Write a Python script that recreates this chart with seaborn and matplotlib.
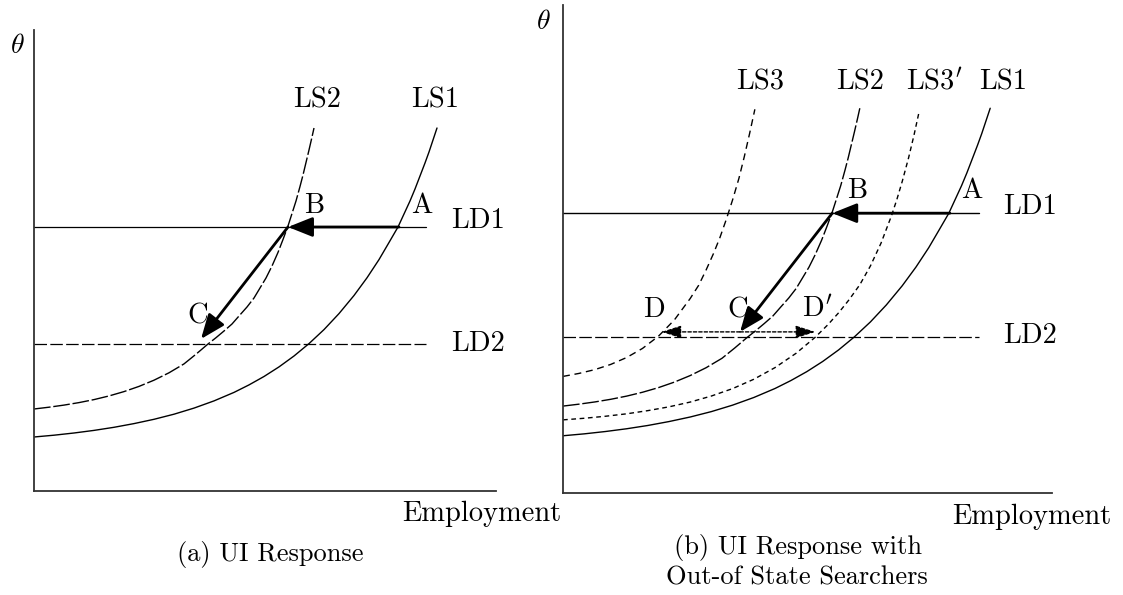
# plot_ui_response.py
# Labour-market diagram: UI response, with and without out-of-state searchers

import matplotlib
matplotlib.use("Agg")
import matplotlib.pyplot as plt
import seaborn as sns

# ─── DATA (arbitrary units) ─────────────────────────────────────
# labour-supply curves: employment -> theta
LS1_X = [0, 20, 40, 60, 80, 100, 120, 140, 160, 180, 200, 215, 230, 245, 260, 275, 290,
         305, 320, 333, 345, 355, 364, 370, 376, 381, 386, 391, 395, 399, 403]
LS1_Y = [54, 55.8, 58, 60.6, 63.7, 67.4, 71.7, 76.8, 82.9, 90.1, 98.6, 106.1, 114.5, 124.1,
         135, 147.4, 161.4, 177.4, 195.5, 213.2, 231.4, 248.5, 264, 277, 290, 302, 315,
         328, 339, 351, 363]

LS2_X = [0, 15, 30, 45, 60, 75, 90, 105, 120, 135, 150, 162, 174, 182, 190, 198, 205, 213,
         220, 226, 232, 238, 244, 249, 254, 258, 262, 266, 269, 272, 275, 278, 280]
LS2_Y = [82, 83.8, 85.9, 88.4, 91.4, 95.05, 99.4, 104.6, 110.8, 118.2, 127.1, 136.8, 147,
         153.3, 160, 167, 175, 184, 193, 203, 213, 225, 238.6, 251.5, 265, 277.5, 290,
         304.5, 316, 328.5, 341, 354, 363]

LS3_X = [0, 15, 30, 45, 60, 75, 90, 105, 120, 128, 135, 142, 148, 154, 160, 166, 171, 176, 181]
LS3_Y = [110, 112.8, 116.4, 121.3, 127.8, 136.4, 147.9, 163.2, 183.5, 196, 210.4, 226, 240.9,
         258, 276.6, 297, 317.2, 339, 362]

LS3P_X = [0, 20, 40, 60, 80, 100, 120, 140, 160, 180, 200, 220, 238, 250, 260, 270, 280,
          290, 300, 310, 315, 320, 326, 331, 336]
LS3P_Y = [69, 70.5, 72.4, 74.7, 77.7, 81.3, 85.8, 91.5, 98.5, 107.3, 118.3, 131.9, 147,
          158.9, 170, 182.5, 196.5, 214.2, 235.7, 261.9, 277.1, 293.9, 316.2, 337.1, 360]

# labour-demand levels
LD1 = 264
LD2 = 147
LD_END = 392

# equilibrium points
A = (365, 264)
B = (254, 264)
C = (167, 152)
D = (93, 152)
D_PRIME = (238, 152)
# ────────────────────────────────────────────────────────────────

sns.set_theme(style="white")
plt.rcParams["font.family"] = ["cmr10", "DejaVu Serif"]
plt.rcParams["mathtext.fontset"] = "cm"
plt.rcParams["axes.formatter.use_mathtext"] = True
plt.rcParams["lines.scale_dashes"] = False

LONG = (0, (12, 2))
LD_DASH = (0, (9, 2.4))
MED = (0, (5, 3.4))
SHORT = (0, (3.4, 2.6))
DOT = (0, (2.4, 1.5))
FS = 20.5
FS_CAP = 19

fig = plt.figure(figsize=(11.23, 5.95), dpi=100)
ax_a = fig.add_axes([34 / 1123, 104 / 595, 462 / 1123, 461 / 595])
ax_b = fig.add_axes([563 / 1123, 102 / 595, 489 / 1123, 488 / 595])
ax_a.set_xlim(0, 462)
ax_a.set_ylim(0, 461)
ax_b.set_xlim(0, 461.3)
ax_b.set_ylim(0, 460.4)

for ax in (ax_a, ax_b):
    ax.set_facecolor("white")
    for s in ("top", "right"):
        ax.spines[s].set_visible(False)
    for s in ("left", "bottom"):
        ax.spines[s].set_color("#333333")
        ax.spines[s].set_linewidth(1.3)
    ax.set_xticks([])
    ax.set_yticks([])
    ax.set_xlabel("")
    ax.set_ylabel("")


def curve(ax, xs, ys, ls):
    sns.lineplot(x=xs, y=ys, ax=ax, color="black", linewidth=1.0,
                 linestyle=ls, estimator=None, sort=False)


def arrow(ax, start, end, lw=2.0, ls="-", scale=30, hl=0.5, hw=0.2):
    ax.annotate("", xy=end, xytext=start,
                arrowprops=dict(arrowstyle=f"-|>,head_length={hl},head_width={hw}",
                                color="black", lw=lw, linestyle=ls,
                                mutation_scale=scale, shrinkA=0, shrinkB=0),
                zorder=5)


def lbl(ax, x, y, s, ha="center", fs=FS):
    ax.text(x, y, s, ha=ha, va="baseline", fontsize=fs, color="black")


# 1) Panel (a)
curve(ax_a, LS1_X, LS1_Y, "-")
curve(ax_a, LS2_X, LS2_Y, LONG)
ax_a.plot([0, LD_END], [LD1, LD1], color="black", lw=0.9)
ax_a.plot([0, LD_END], [LD2, LD2], color="black", lw=0.9, linestyle=LD_DASH)
arrow(ax_a, A, B)
arrow(ax_a, B, C)

lbl(ax_a, -17, 438, r"$\theta$", fs=20)
lbl(ax_a, 448, -30, "Employment")
lbl(ax_a, 283, 384, "LS2")
lbl(ax_a, 401, 384, "LS1")
lbl(ax_a, 280, 278, "B")
lbl(ax_a, 388, 278, "A")
lbl(ax_a, 164, 168, "C")
lbl(ax_a, 417, 263, "LD1", ha="left")
lbl(ax_a, 417, 140, "LD2", ha="left")
lbl(ax_a, 236, -69.5, "(a) UI Response", fs=FS_CAP)

# 2) Panel (b)
curve(ax_b, LS1_X, LS1_Y, "-")
curve(ax_b, LS2_X, LS2_Y, LONG)
curve(ax_b, LS3_X, LS3_Y, MED)
curve(ax_b, LS3P_X, LS3P_Y, SHORT)
ax_b.plot([0, LD_END], [LD1, LD1], color="black", lw=1.0)
ax_b.plot([0, LD_END], [LD2, LD2], color="black", lw=0.9, linestyle=LD_DASH)
arrow(ax_b, A, B)
arrow(ax_b, B, C)
arrow(ax_b, C, D, lw=1.0, ls=DOT, scale=24, hl=0.5, hw=0.16)
arrow(ax_b, C, D_PRIME, lw=1.0, ls=DOT, scale=24, hl=0.5, hw=0.16)

lbl(ax_b, -19, 438, r"$\theta$", fs=20)
lbl(ax_b, 442.5, -29, "Employment")
lbl(ax_b, 186, 381, "LS3")
lbl(ax_b, 280, 381, "LS2")
lbl(ax_b, 350, 381, r"LS3$'$")
lbl(ax_b, 415, 381, "LS1")
lbl(ax_b, 277, 278, "B")
lbl(ax_b, 386, 278, "A")
lbl(ax_b, 86, 166, "D")
lbl(ax_b, 165, 166, "C")
lbl(ax_b, 240, 166, r"D$'$")
lbl(ax_b, 415, 263, "LD1", ha="left")
lbl(ax_b, 415, 141.5, "LD2", ha="left")
lbl(ax_b, 222, -57.5, "(b) UI Response with", fs=FS_CAP)
lbl(ax_b, 221, -86, "Out-of State Searchers", fs=FS_CAP)

fig.savefig("out.png", dpi=100, facecolor="white")
plt.close(fig)
